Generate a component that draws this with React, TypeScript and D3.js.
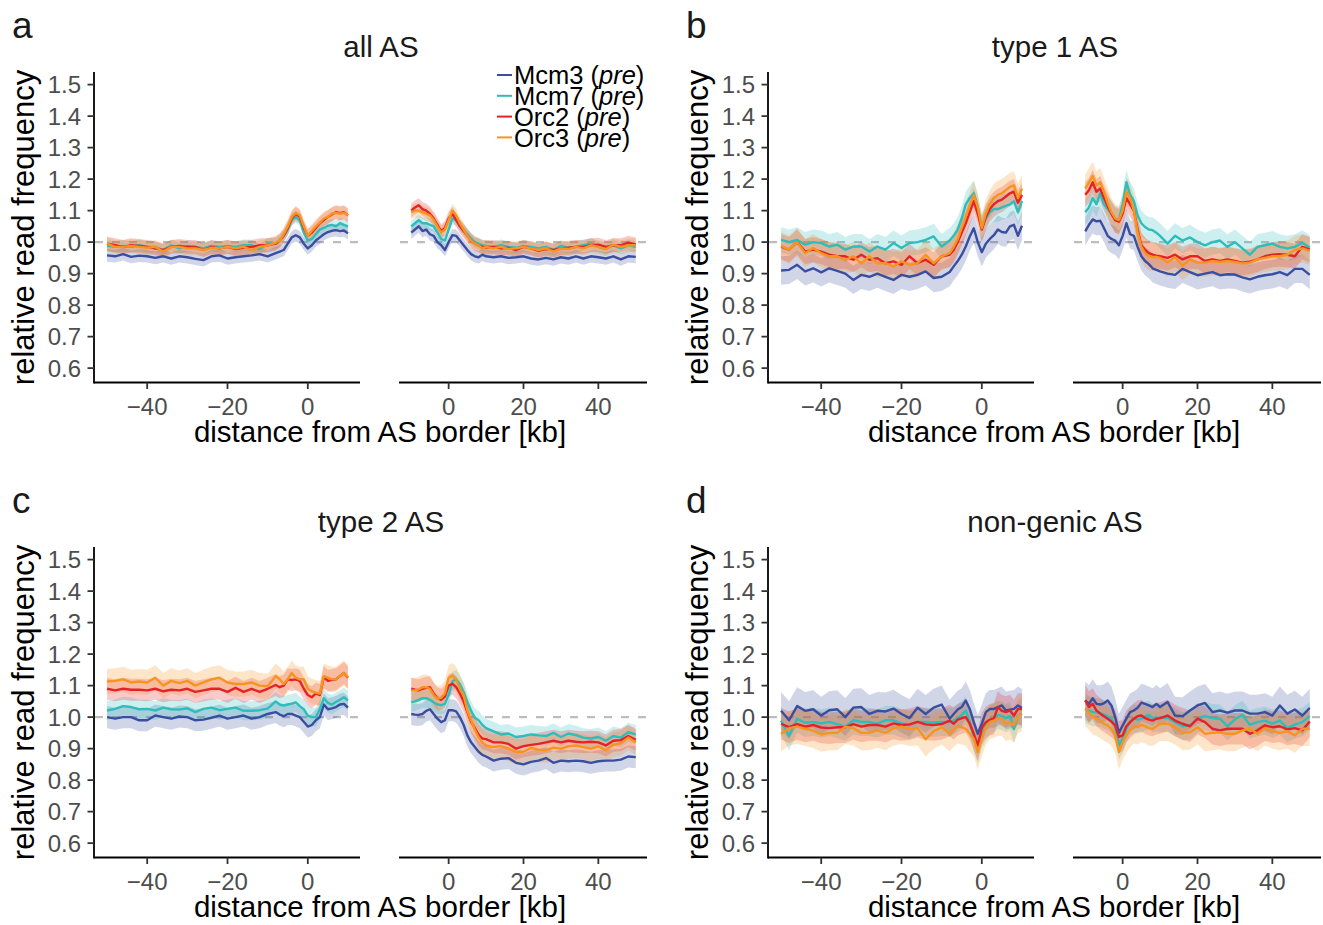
import React from "react";
import * as d3 from "d3";

// ---------- x grids (kb) ----------
const LEFT_X = [-50,-48,-46,-44,-42,-40,-38,-36,-34,-32,-30,-28,-26,-24,-22,-20,-18,-16,-14,-12,-10,-8,-7,-6,-5,-4,-3,-2,-1,0,1,2,3,4,5,6,7,8,9,10];
const RIGHT_X = [-10,-9,-8,-7,-6,-5,-4,-3,-2,-1,0,1,2,3,4,5,6,7,8,9,10,12,14,16,18,20,22,24,26,28,30,32,34,36,38,40,42,44,46,48,50];

const SERIES = ["Mcm3", "Mcm7", "Orc2", "Orc3"];
const COLORS = ["#3a4ea0", "#2dbdbb", "#e62228", "#f7941e"];
const Y_TICKS = [0.6, 0.7, 0.8, 0.9, 1.0, 1.1, 1.2, 1.3, 1.4, 1.5];
const LEFT_TICKS = [-40, -20, 0];
const RIGHT_TICKS = [0, 20, 40];

// ---------- panel a: all AS ----------
const aLMcm3 = [.958,.955,.962,.953,.957,.955,.95,.955,.948,.955,.952,.947,.943,.955,.958,.948,.952,.955,.958,.962,.955,.965,.97,.975,.995,1.015,1.022,1.015,.995,.98,.99,1.005,1.015,1.025,1.032,1.036,1.038,1.035,1.037,1.028];
const aLMcm7 = [.988,.985,.988,.985,.99,.985,.985,.975,.99,.98,.988,.985,.98,.988,.985,.988,.985,.99,.99,.978,.995,.995,1.005,1.02,1.04,1.07,1.08,1.07,1.03,1.005,1.01,1.025,1.04,1.045,1.052,1.055,1.05,1.06,1.055,1.05];
const aLOrc2 = [.995,.99,.985,.99,.988,.985,.98,.975,.985,.988,.985,.985,.975,.985,.98,.985,.978,.982,.985,.99,.99,.995,1.005,1.02,1.045,1.075,1.09,1.08,1.045,1.02,1.03,1.045,1.06,1.07,1.08,1.088,1.095,1.092,1.095,1.085];
const aLOrc3 = [.995,.985,.985,.988,.985,.982,.985,.97,.985,.985,.98,.98,.975,.982,.98,.985,.98,.985,.975,.985,.99,.998,1.005,1.025,1.05,1.08,1.093,1.085,1.05,1.02,1.035,1.05,1.062,1.075,1.08,1.09,1.093,1.09,1.093,1.085];
const aRMcm3 = [1.03,1.04,1.05,1.035,1.04,1.025,1.02,1.0,.99,.975,1.0,1.022,1.02,1.005,.99,.975,.962,.955,.952,.96,.955,.952,.955,.95,.952,.955,.948,.945,.95,.945,.952,.948,.955,.948,.955,.952,.948,.955,.945,.955,.953];
const aRMcm7 = [1.05,1.06,1.07,1.06,1.06,1.055,1.05,1.03,1.01,1.005,1.04,1.075,1.07,1.055,1.04,1.025,1.012,1.0,.995,.99,.988,.985,.99,.985,.982,.988,.985,.98,.985,.975,.988,.982,.985,.99,.995,.985,.978,.99,.98,.99,.985];
const aROrc2 = [1.10,1.11,1.117,1.105,1.10,1.09,1.075,1.055,1.035,1.045,1.075,1.09,1.07,1.05,1.035,1.02,1.005,.995,.99,.985,.983,.985,.98,.982,.975,.985,.98,.972,.978,.975,.98,.982,.985,.985,.99,.992,.985,.99,.99,.998,.993];
const aROrc3 = [1.095,1.10,1.10,1.095,1.09,1.085,1.07,1.05,1.03,1.04,1.07,1.10,1.085,1.06,1.04,1.02,1.005,.995,.99,.98,.985,.98,.985,.978,.98,.985,.98,.975,.98,.97,.98,.978,.985,.98,.99,.985,.978,.992,.985,.99,.99];
const aSE = [0.02, 0.018, 0.022, 0.022];

// ---------- panel b: type 1 AS ----------
const bLMcm3 = [.91,.912,.928,.907,.917,.904,.917,.909,.90,.88,.896,.89,.90,.89,.88,.896,.89,.896,.907,.886,.89,.905,.923,.94,.96,.986,1.018,1.044,1.0,.968,.995,1.01,1.022,1.04,1.032,1.03,1.05,1.055,1.02,1.052];
const bLMcm7 = [1.007,1.0,1.007,.992,1.0,.997,.986,.992,.976,.986,.986,.97,.986,.976,.997,.981,.997,1.0,1.007,1.018,.986,1.005,1.02,1.04,1.075,1.12,1.14,1.155,1.11,1.045,1.075,1.095,1.105,1.105,1.11,1.115,1.12,1.13,1.095,1.13];
const bLOrc2 = [.986,.976,1.0,.97,.976,.97,.96,.955,.955,.944,.96,.944,.949,.933,.939,.928,.955,.933,.944,.928,.955,.96,.975,1.0,1.03,1.06,1.095,1.13,1.09,1.04,1.08,1.105,1.12,1.13,1.135,1.145,1.155,1.16,1.125,1.15];
const bLOrc3 = [.988,.976,1.0,.965,.981,.965,.955,.955,.944,.955,.933,.955,.933,.933,.923,.939,.928,.933,.96,.933,.955,.965,.985,1.01,1.045,1.08,1.115,1.15,1.11,1.045,1.09,1.12,1.14,1.15,1.155,1.165,1.175,1.18,1.14,1.17];
const bRMcm3 = [1.034,1.055,1.072,1.066,1.068,1.045,1.02,1.01,1.005,.99,1.02,1.06,1.025,1.02,.985,.955,.94,.93,.917,.912,.907,.90,.896,.915,.905,.895,.90,.905,.895,.898,.897,.888,.882,.89,.895,.898,.905,.895,.915,.915,.896];
const bRMcm7 = [1.095,1.11,1.14,1.12,1.155,1.12,1.105,1.09,1.075,1.07,1.12,1.19,1.15,1.13,1.085,1.06,1.048,1.04,1.038,1.03,1.02,.995,1.02,1.005,1.015,1.0,.99,1.0,1.005,.985,1.0,.98,.96,.985,.99,.995,.985,.98,.985,.998,.982];
const bROrc2 = [1.15,1.165,1.19,1.16,1.17,1.14,1.115,1.09,1.07,1.065,1.09,1.14,1.12,1.10,1.04,.99,.975,.965,.96,.957,.955,.95,.96,.945,.955,.955,.94,.945,.94,.945,.94,.935,.938,.945,.955,.96,.962,.96,.955,.985,.976];
const bROrc3 = [1.17,1.19,1.21,1.18,1.19,1.16,1.125,1.095,1.075,1.07,1.10,1.16,1.14,1.10,1.03,.985,.965,.955,.953,.953,.95,.935,.952,.925,.945,.935,.935,.94,.937,.94,.937,.932,.935,.945,.95,.955,.955,.96,.975,.98,.972];
const bSE = [0.045, 0.04, 0.04, 0.045];

// ---------- panel c: type 2 AS ----------
const cLMcm3 = [1.0,.995,1.0,1.0,.99,.99,1.005,1.0,.995,1.002,1.0,.99,.992,.998,1.005,.995,1.0,1.005,.995,1.0,1.01,1.016,1.008,1.003,1.01,1.01,1.005,1.0,.985,.97,.975,.99,1.0,1.04,1.025,1.028,1.032,1.04,1.042,1.03];
const cLMcm7 = [1.021,1.026,1.035,1.032,1.025,1.026,1.021,1.03,1.025,1.024,1.028,1.016,1.026,1.03,1.022,1.026,1.03,1.02,1.02,1.022,1.027,1.05,1.04,1.037,1.04,1.043,1.047,1.035,1.025,1.005,1.0,1.0,1.025,1.06,1.045,1.04,1.048,1.055,1.063,1.053];
const cLOrc2 = [1.09,1.085,1.09,1.087,1.087,1.085,1.09,1.082,1.087,1.085,1.09,1.08,1.085,1.09,1.09,1.08,1.093,1.08,1.09,1.08,1.09,1.102,1.095,1.10,1.12,1.118,1.12,1.115,1.09,1.07,1.063,1.075,1.07,1.127,1.115,1.118,1.12,1.13,1.14,1.125];
const cLOrc3 = [1.113,1.115,1.12,1.11,1.113,1.11,1.125,1.10,1.115,1.108,1.115,1.10,1.11,1.12,1.125,1.11,1.105,1.105,1.11,1.10,1.098,1.13,1.12,1.105,1.12,1.14,1.125,1.12,1.12,1.09,1.082,1.078,1.075,1.13,1.125,1.12,1.12,1.13,1.14,1.127];
const cRMcm3 = [1.01,1.008,1.007,1.01,1.02,1.025,1.01,.995,.984,.99,1.022,1.022,1.018,1.0,.975,.942,.92,.905,.89,.88,.875,.862,.868,.87,.855,.85,.858,.862,.87,.855,.862,.86,.862,.86,.855,.86,.862,.862,.865,.875,.873];
const cRMcm7 = [1.048,1.05,1.055,1.06,1.06,1.055,1.047,1.04,1.038,1.042,1.07,1.113,1.12,1.105,1.08,1.048,1.02,.998,.99,.975,.965,.955,.945,.948,.937,.94,.945,.942,.94,.95,.937,.948,.943,.935,.932,.937,.925,.94,.935,.952,.945];
const cROrc2 = [1.09,1.087,1.085,1.09,1.093,1.095,1.075,1.06,1.055,1.065,1.10,1.106,1.095,1.075,1.05,1.016,.985,.965,.945,.932,.93,.92,.92,.915,.90,.908,.912,.915,.92,.925,.92,.925,.922,.92,.922,.92,.91,.925,.927,.94,.928];
const cROrc3 = [1.085,1.085,1.088,1.095,1.095,1.09,1.07,1.058,1.062,1.075,1.125,1.132,1.12,1.09,1.07,1.02,.99,.96,.935,.92,.91,.905,.908,.90,.89,.89,.902,.897,.895,.903,.9,.908,.91,.905,.9,.907,.895,.912,.917,.935,.92];
const cSE = [0.035, 0.03, 0.035, 0.04];

// ---------- panel d: non-genic AS ----------
const dLMcm3 = [1.02,.99,1.035,1.02,1.025,1.005,1.022,1.025,1.0,1.03,1.032,1.01,1.02,1.018,1.027,1.01,.997,1.03,1.01,1.03,1.04,.995,1.01,1.024,1.032,1.053,1.026,.984,.947,.979,1.016,1.026,1.026,1.032,1.037,1.021,1.024,1.026,1.037,1.029];
const dLMcm7 = [.989,.94,.995,.982,.985,.98,.985,.978,.97,.99,.985,.985,.98,.99,.99,.98,.975,.985,.985,.983,.985,.984,.989,.997,1.007,1.021,.984,.937,.9,.947,.971,.989,.997,1.007,1.003,.997,1.003,.963,1.005,1.011];
const dLOrc2 = [.979,.968,.978,.97,.975,.967,.965,.968,.968,.978,.97,.975,.975,.97,.98,.975,.977,.985,.977,.975,.978,.989,.979,.992,.997,1.0,.979,.947,.91,.965,.984,.992,.995,1.032,1.02,1.016,1.021,1.005,1.026,1.026];
const dLOrc3 = [.947,.965,.97,.963,.957,.945,.95,.95,.97,.965,.95,.95,.958,.95,.965,.97,.963,.965,.93,.955,.968,.947,.961,.971,.968,.963,.947,.931,.889,.931,.968,.984,.989,.995,.995,.979,.984,.974,1.003,1.011];
const dRMcm3 = [1.053,1.042,1.06,1.042,1.04,1.044,1.053,1.037,1.0,.95,.974,.995,1.016,1.021,1.03,1.046,1.042,1.037,1.032,1.042,1.032,1.048,1.005,1.003,1.021,1.037,1.045,1.016,1.021,1.014,1.021,1.021,1.011,1.011,1.016,1.005,1.037,1.011,1.024,1.005,1.029];
const dRMcm7 = [1.026,1.021,1.016,1.016,1.013,1.008,1.003,.995,.971,.91,.931,.963,.986,.995,.992,.995,1.003,1.007,.997,.999,.997,.998,.984,.971,.974,.995,1.003,.997,.995,.971,.993,1.007,.976,.984,.989,.979,.989,.965,.976,.984,1.003];
const dROrc2 = [1.053,1.032,1.042,1.021,1.011,1.003,.995,.986,.974,.937,.942,.971,.984,.995,1.003,1.005,.997,.992,.989,.995,.997,1.005,.989,.979,.971,.995,.984,.963,.958,.963,.963,.963,.947,.958,.974,.968,.971,.961,.965,.958,.986];
const dROrc3 = [1.026,1.014,1.0,.995,.989,.979,.974,.963,.942,.889,.92,.942,.958,.971,.968,.976,.971,.965,.963,.971,.979,.979,.968,.95,.952,.968,.947,.95,.952,.947,.947,.958,.963,.947,.965,.955,.95,.955,.942,.963,.963];
const dSE = [0.06, 0.045, 0.05, 0.055];

const PANELS = [
  { letter: "a", title: "all AS", col: 0, row: 0, left: [aLMcm3, aLMcm7, aLOrc2, aLOrc3], right: [aRMcm3, aRMcm7, aROrc2, aROrc3], se: aSE, legend: true },
  { letter: "b", title: "type 1 AS", col: 1, row: 0, left: [bLMcm3, bLMcm7, bLOrc2, bLOrc3], right: [bRMcm3, bRMcm7, bROrc2, bROrc3], se: bSE, legend: false },
  { letter: "c", title: "type 2 AS", col: 0, row: 1, left: [cLMcm3, cLMcm7, cLOrc2, cLOrc3], right: [cRMcm3, cRMcm7, cROrc2, cROrc3], se: cSE, legend: false },
  { letter: "d", title: "non-genic AS", col: 1, row: 1, left: [dLMcm3, dLMcm7, dLOrc2, dLOrc3], right: [dRMcm3, dRMcm7, dROrc2, dROrc3], se: dSE, legend: false },
];

const FONT = "'Liberation Sans', Arial, Helvetica, sans-serif";
const fmtTick = (v: number) => (v < 0 ? "\u2212" + Math.abs(v) : String(v));

function SubPlot({ xs, x, y, data, se, ticks, baseY }: any) {
  const [x0, x1] = x.range();
  return (
    <g>
      <line x1={x0} x2={x1} y1={y(1)} y2={y(1)} stroke="#bdbdbd" strokeWidth={2.2} strokeDasharray="8,9" />
      {data.map((vals: number[], si: number) => {
        const area = d3.area<number>()
          .x((_, i) => x(xs[i]))
          .y0((v) => y(v - se[si]))
          .y1((v) => y(v + se[si]));
        return <path key={"r" + si} d={area(vals) || ""} fill={COLORS[si]} fillOpacity={0.24} stroke="none" />;
      })}
      {data.map((vals: number[], si: number) => {
        const line = d3.line<number>().x((_, i) => x(xs[i])).y((v) => y(v));
        return <path key={"l" + si} d={line(vals) || ""} fill="none" stroke={COLORS[si]} strokeWidth={2.4} strokeLinejoin="round" />;
      })}
      <line x1={x0 - 1} x2={x1} y1={baseY} y2={baseY} stroke="#000" strokeWidth={1.8} />
      {ticks.map((t: number) => (
        <g key={t}>
          <line x1={x(t)} x2={x(t)} y1={baseY} y2={baseY + 6.5} stroke="#333" strokeWidth={1.8} />
          <text x={x(t)} y={baseY + 32.5} textAnchor="middle" fontSize={24} fill="#4d4d4d" fontFamily={FONT}>{fmtTick(t)}</text>
        </g>
      ))}
    </g>
  );
}

function Panel({ p }: any) {
  const ox = p.col * 674;
  const oy = p.row * 475;
  const y = d3.scaleLinear().domain([0.556, 1.54]).range([oy + 382, oy + 72]);
  const xl = d3.scaleLinear().domain([-53, 13]).range([ox + 95, ox + 360]);
  const xr = d3.scaleLinear().domain([-13, 53]).range([ox + 400, ox + 647]);
  const baseY = oy + 382.5;
  const axisX = ox + 94;
  return (
    <g>
      <text x={ox + 12} y={oy + 38} fontSize={37} fontFamily={FONT} fill="#1a1a1a">{p.letter}</text>
      <text x={ox + 381} y={oy + 57} fontSize={29.5} fontFamily={FONT} textAnchor="middle" fill="#1a1a1a">{p.title}</text>
      <SubPlot xs={LEFT_X} x={xl} y={y} data={p.left} se={p.se} ticks={LEFT_TICKS} baseY={baseY} />
      <SubPlot xs={RIGHT_X} x={xr} y={y} data={p.right} se={p.se} ticks={RIGHT_TICKS} baseY={baseY} />
      <line x1={axisX} x2={axisX} y1={oy + 72} y2={baseY + 0.9} stroke="#000" strokeWidth={1.8} />
      {Y_TICKS.map((t) => (
        <g key={t}>
          <line x1={axisX - 6.5} x2={axisX} y1={y(t)} y2={y(t)} stroke="#333" strokeWidth={1.8} />
          <text x={axisX - 13} y={y(t)} dy="0.36em" textAnchor="end" fontSize={24} fill="#4d4d4d" fontFamily={FONT}>{t.toFixed(1)}</text>
        </g>
      ))}
      <text transform={`translate(${ox + 34},${oy + 227.5}) rotate(-90)`} textAnchor="middle" fontSize={31} fontFamily={FONT} fill="#000">relative read frequency</text>
      <text x={ox + 380} y={oy + 442} textAnchor="middle" fontSize={29.5} fontFamily={FONT} fill="#000">distance from AS border [kb]</text>
      {p.legend && SERIES.map((s, i) => {
        const cy = oy + 75 + i * 20.8;
        return (
          <g key={s}>
            <line x1={ox + 497} x2={ox + 512} y1={cy} y2={cy} stroke={COLORS[i]} strokeWidth={2} />
            <text x={ox + 514} y={cy} dy="0.36em" fontSize={25.5} fontFamily={FONT} fill="#000">
              {s + " ("}<tspan fontStyle="italic">pre</tspan>{")"}
            </text>
          </g>
        );
      })}
    </g>
  );
}

export default function App() {
  return (
    <svg width={1323} height={925} style={{ position: "absolute", left: 0, top: 0, background: "#fff" }}>
      <rect x={0} y={0} width={1323} height={925} fill="#fff" />
      {PANELS.map((p) => <Panel key={p.letter} p={p} />)}
    </svg>
  );
}
